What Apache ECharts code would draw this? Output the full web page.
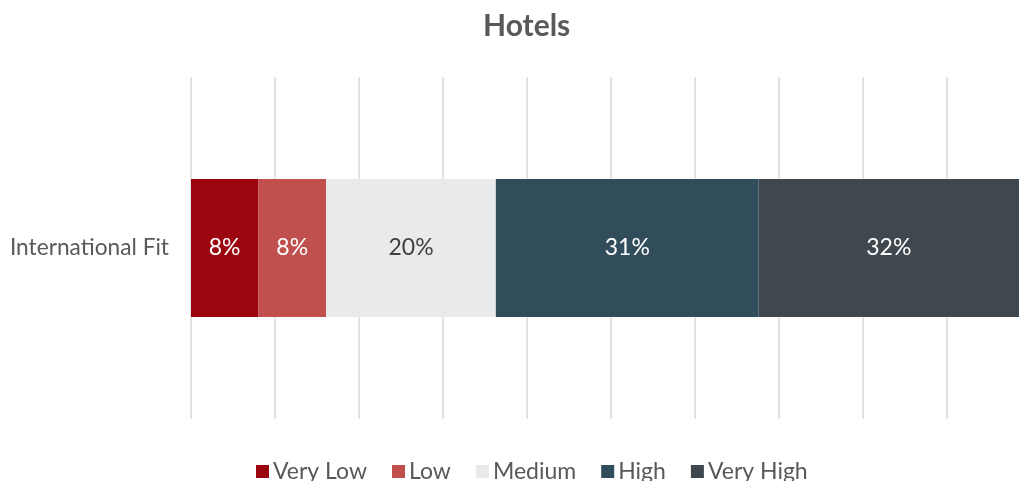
<!DOCTYPE html>
<html>
<head>
<meta charset="utf-8">
<script src="https://cdn.jsdelivr.net/npm/echarts@6/dist/echarts.min.js"></script>
<style>
  html, body { margin: 0; padding: 0; background: #ffffff; }
  #chart { width: 1019px; height: 481px; }
</style>
</head>
<body>
<div id="chart"></div>
<script>
// Hotels: share of ratings for "International Fit"
const categories = ['International Fit'];
const seriesNames = ['Very Low', 'Low', 'Medium', 'High', 'Very High'];
const veryLow = [0.080];
const low = [0.081];
const medium = [0.202];
const high = [0.313];
const veryHigh = [0.324];
const seriesColors = ['#9b0510', '#c0504d', '#e9eaec', '#314d5c', '#3f474f'];
const labelColors = ['#ffffff', '#ffffff', '#404040', '#ffffff', '#ffffff'];

const seriesValues = [veryLow, low, medium, high, veryHigh];
const FONT = 'Lato, "Open Sans", sans-serif';

// The value axis runs past the right edge of the canvas: the visible part ends at 98.6%.
const AXIS_VISIBLE_MAX = 0.986;

const chart = echarts.init(document.getElementById('chart'), null, { renderer: 'canvas' });

chart.setOption({
  animation: false,
  backgroundColor: '#ffffff',
  title: {
    text: 'Hotels',
    left: 483,
    top: 11,
    padding: 0,
    textStyle: { fontFamily: FONT, fontSize: 30, fontWeight: 'bold', color: '#595959' }
  },
  legend: {
    data: seriesNames,
    left: 256,
    top: 460,
    padding: 0,
    itemWidth: 13,
    itemHeight: 13,
    itemGap: 25,
    icon: 'rect',
    textStyle: { fontFamily: FONT, fontSize: 23, color: '#595959', padding: [0, 0, 0, -1] }
  },
  grid: { left: 191, right: 0, top: 77, bottom: 62, containLabel: false },
  xAxis: {
    type: 'value',
    min: 0,
    max: AXIS_VISIBLE_MAX,
    interval: 0.1,
    axisLabel: { show: false },
    axisLine: { show: false },
    axisTick: { show: false },
    splitLine: { show: true, showMaxLine: false, lineStyle: { color: '#d9d9d9', width: 1.5 } }
  },
  yAxis: {
    type: 'category',
    data: categories,
    axisLine: { show: false },
    axisTick: { show: false },
    axisLabel: { fontFamily: FONT, fontSize: 22.7, color: '#595959', margin: 22 }
  },
  series: seriesNames.map((name, i) => ({
    name: name,
    type: 'bar',
    stack: 'total',
    barWidth: 138,
    clip: true,
    data: seriesValues[i],
    itemStyle: { color: seriesColors[i] },
    label: {
      show: true,
      position: 'inside',
      fontFamily: FONT,
      fontSize: 23,
      color: labelColors[i],
      formatter: p => Math.round(p.value * 100) + '%'
    }
  }))
});
</script>
</body>
</html>
